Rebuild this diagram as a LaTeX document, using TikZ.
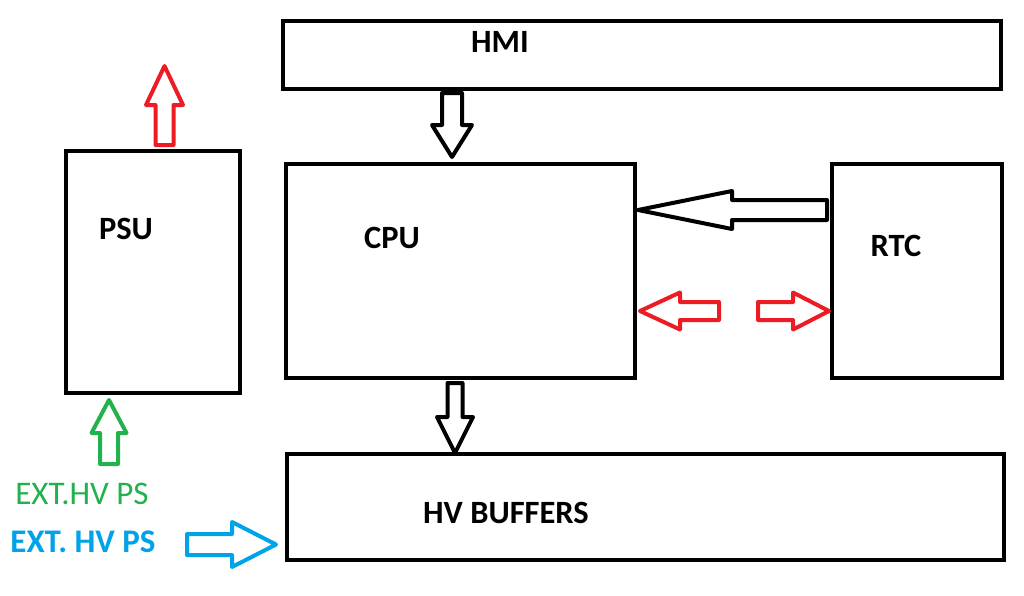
\documentclass[tikz,border=0pt]{standalone}
\usepackage{fontspec}
\setmainfont{Carlito}
\usetikzlibrary{calc}

\definecolor{paintred}{RGB}{237,28,36}
\definecolor{paintgreen}{RGB}{34,177,76}
\definecolor{paintblue}{RGB}{0,162,232}

% block arrow: [style]{tail}{tip}{shaft half width}{head half width}{head length}
\newcommand{\blockarrow}[6][]{%
  \coordinate (ba-t) at (#2);
  \coordinate (ba-h) at (#3);
  \coordinate (ba-b) at ($(ba-h)!#6pt!(ba-t)$);
  \draw[#1] ($(ba-t)!#4pt!90:(ba-h)$) -- ($(ba-b)!#4pt!-90:(ba-t)$)
    -- ($(ba-b)!#5pt!-90:(ba-t)$) -- (ba-h) -- ($(ba-b)!#5pt!90:(ba-t)$)
    -- ($(ba-b)!#4pt!90:(ba-t)$) -- ($(ba-t)!#4pt!-90:(ba-h)$) -- cycle;
}

\begin{document}
\begin{tikzpicture}[x=1pt, y=-1pt,
    block/.style={draw, line width=4pt, inner sep=0pt},
    blocktext/.style={font=\fontsize{32.5}{38}\bfseries\selectfont, inner sep=0pt},
    arrowline/.style={line width=4pt, line join=round}]
    \useasboundingbox (0,0) rectangle (1024,595);

    % blocks
    \node[block, minimum width=718pt, minimum height=68pt] (hmi) at (642,55) {};
    \node[block, minimum width=174pt, minimum height=242pt] (psu) at (153,272) {};
    \node[block, minimum width=349pt, minimum height=214pt] (cpu) at (460.5,271) {};
    \node[block, minimum width=170pt, minimum height=214pt] (rtc) at (917,271) {};
    \node[block, minimum width=717pt, minimum height=106pt] (hv) at (645.5,507) {};

    % labels
    \node[blocktext] (hmi-text) at (500,42) {HMI};
    \node[blocktext] (psu-text) at (126,229) {PSU};
    \node[blocktext] (cpu-text) at (392,238) {CPU};
    \node[blocktext] (rtc-text) at (896,246) {RTC};
    \node[blocktext] (hv-text) at (506,513) {HV BUFFERS};
    \node[paintgreen, inner sep=0pt, font=\fontsize{33}{38}\selectfont] (ext-green) at (82,494) {EXT.HV PS};
    \node[paintblue, inner sep=0pt, font=\fontsize{33}{38}\bfseries\selectfont] (ext-blue) at (83,542) {EXT. HV PS};

    % arrow ends
    \coordinate (psu-tail) at (164.5,145);
    \coordinate (psu-tip) at (164.5,66);
    \coordinate (hmi-tail) at (452,93);
    \coordinate (hmi-tip) at (452,157);
    \coordinate (rtc-tail) at (827,210);
    \coordinate (rtc-tip) at (638,210);
    \coordinate (bus-left-tail) at (719,311);
    \coordinate (bus-left-tip) at (640,311);
    \coordinate (bus-right-tail) at (758,311);
    \coordinate (bus-right-tip) at (829,311);
    \coordinate (cpu-tail) at (455,383);
    \coordinate (cpu-tip) at (455,453);
    \coordinate (green-tail) at (109,464);
    \coordinate (green-tip) at (109,400);
    \coordinate (blue-tail) at (187,544.5);
    \coordinate (blue-tip) at (276,544.5);

    % arrows
    \blockarrow[arrowline, paintred]{psu-tail}{psu-tip}{9}{18.5}{39}
    \blockarrow[arrowline]{hmi-tail}{hmi-tip}{10}{20}{32}
    \blockarrow[arrowline]{rtc-tail}{rtc-tip}{10}{19}{94}
    \blockarrow[arrowline, paintred]{bus-left-tail}{bus-left-tip}{9}{18.5}{40}
    \blockarrow[arrowline, paintred]{bus-right-tail}{bus-right-tip}{9}{18.5}{36}
    \blockarrow[arrowline]{cpu-tail}{cpu-tip}{7.5}{18}{36}
    \blockarrow[arrowline, paintgreen]{green-tail}{green-tip}{9}{17.5}{33}
    \blockarrow[arrowline, paintblue]{blue-tail}{blue-tip}{10.5}{22.5}{44}
\end{tikzpicture}
\end{document}
